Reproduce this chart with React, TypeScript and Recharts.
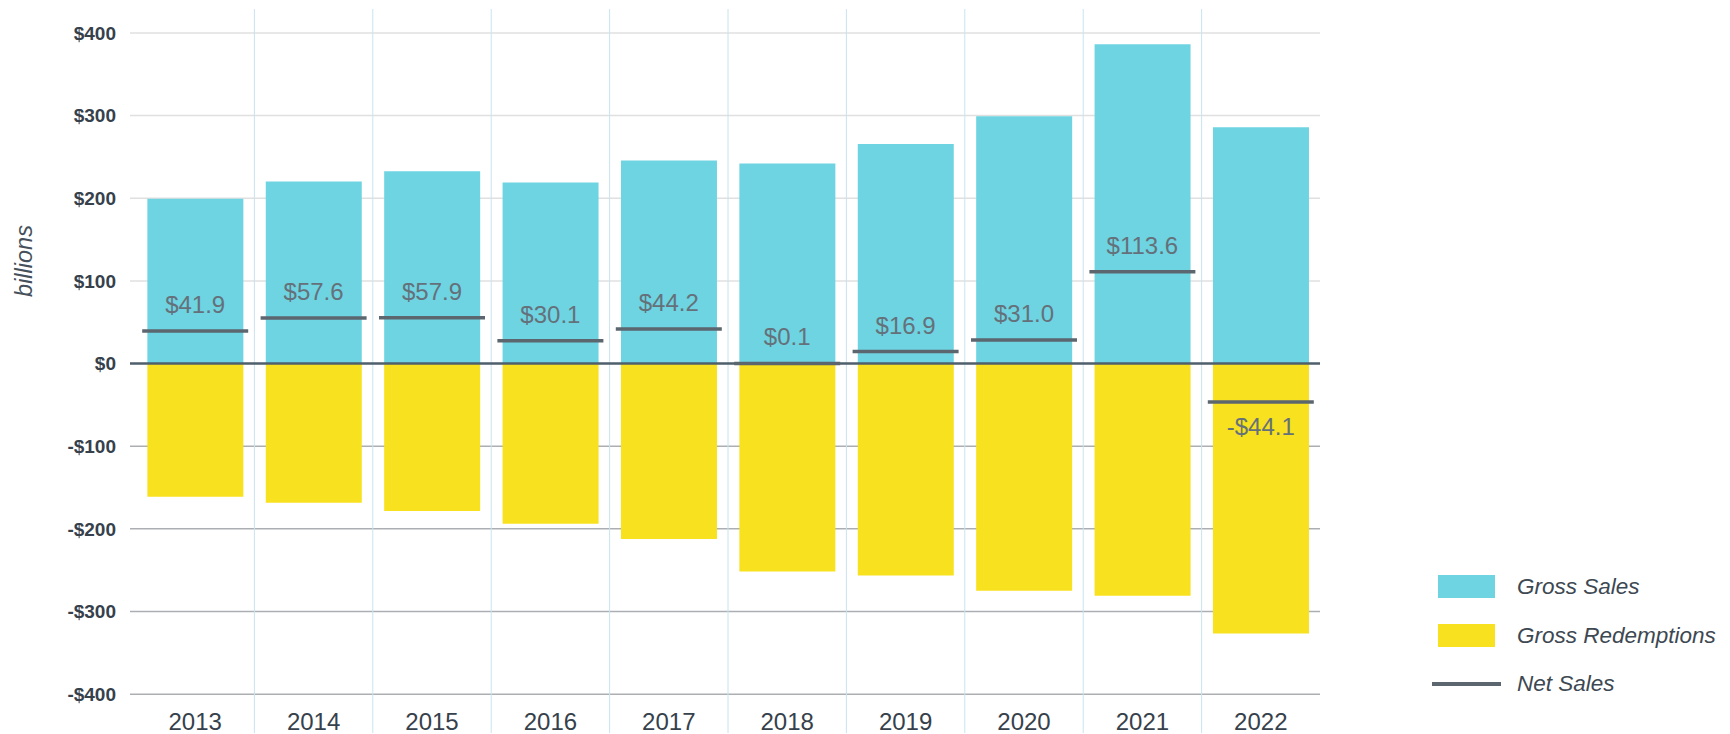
import React from "react";
import {
  ComposedChart,
  Bar,
  Scatter,
  XAxis,
  YAxis,
  CartesianGrid,
  ReferenceLine,
} from "recharts";

const years = ["2013", "2014", "2015", "2016", "2017", "2018", "2019", "2020", "2021", "2022"];
const grossSales = [199.5, 220.2, 232.7, 219, 245.7, 242, 265.6, 299.3, 386.5, 285.9];
const grossRedemptions = [-161.3, -168.5, -178.5, -193.8, -212.3, -251.7, -256.5, -275, -281, -326.5];
const netSales = [41.9, 57.6, 57.9, 30.1, 44.2, 0.1, 16.9, 31.0, 113.6, -44.1];
const yTicks = [-400, -300, -200, -100, 0, 100, 200, 300, 400];

const data = years.map((year, i) => ({
  year,
  gross: grossSales[i],
  redemptions: grossRedemptions[i],
  net: netSales[i],
}));

const W = 1730;
const H = 734;
const TOP = 9;
const X_AXIS_H = 1;
const Y_MIN = -447;
const Y_MAX = 429;
const PLOT_H = H - TOP - X_AXIS_H;
const ZERO_Y = TOP + (PLOT_H * Y_MAX) / (Y_MAX - Y_MIN);

const FONT = "'Liberation Sans', Arial, sans-serif";
const CYAN = "#6ed4e2";
const YELLOW = "#f8e11e";
const NET = "#5b666e";
const V_GRID = "#c8e4ef";

const money = (v: number, digits = 0) =>
  v < 0 ? `-$${Math.abs(v).toFixed(digits)}` : `$${v.toFixed(digits)}`;

// net sales: a short horizontal bar marker with its value
const NetMarker = (props: any) => {
  const { cx, cy, payload } = props;
  if (cx == null || cy == null) return null;
  const y = payload.net < 1 && payload.net >= 0 ? cy : cy + 2;
  const neg = payload.net < 0;
  return (
    <g>
      <line x1={cx - 53} x2={cx + 53} y1={y} y2={y} stroke={NET} strokeWidth={3.5} />
      <text
        x={cx}
        y={neg ? y + 33 : y - 18}
        textAnchor="middle"
        fill="#65717a"
        fontSize={24}
        fontFamily={FONT}
      >
        {money(payload.net, 1)}
      </text>
    </g>
  );
};

const XTick = (props: any) => {
  const { x, y, payload } = props;
  return (
    <text x={x} y={y - 3} textAnchor="middle" fill="#36414b" fontSize={24} fontFamily={FONT}>
      {payload.value}
    </text>
  );
};

const legendItems = [
  { name: "Gross Sales", kind: "rect", color: CYAN },
  { name: "Gross Redemptions", kind: "rect", color: YELLOW },
  { name: "Net Sales", kind: "line", color: NET },
];

const ChartLegend = () => (
  <div style={{ position: "absolute", left: 1432, top: 563, width: 298, fontFamily: FONT }}>
    {legendItems.map((item) => (
      <div key={item.name} style={{ display: "flex", alignItems: "center", height: 48.5 }}>
        <div style={{ width: 85, position: "relative", height: 24 }}>
          {item.kind === "rect" ? (
            <div
              style={{ position: "absolute", left: 6, top: 0, width: 57, height: 23, background: item.color }}
            />
          ) : (
            <div
              style={{ position: "absolute", left: 0, top: 10, width: 69, height: 4, background: item.color }}
            />
          )}
        </div>
        <span style={{ fontSize: 22.5, fontStyle: "italic", color: "#3d4852", whiteSpace: "nowrap" }}>
          {item.name}
        </span>
      </div>
    ))}
  </div>
);

export default function App() {
  return (
    <div style={{ position: "absolute", left: 0, top: 0, width: W, height: H, background: "#fff" }}>
      <ComposedChart
        width={W}
        height={H}
        data={data}
        stackOffset="sign"
        barCategoryGap="9.6%"
        margin={{ top: TOP, right: 410, left: 0, bottom: 0 }}
      >
        <CartesianGrid
          stroke={V_GRID}
          horizontal={(p: any) =>
            p.y1 > TOP + PLOT_H - 8 || p.y1 < TOP + 5 ? (
              <g />
            ) : (
              <line
                x1={p.x1 - 6}
                x2={p.x2}
                y1={p.y1}
                y2={p.y2}
                stroke={p.y1 > ZERO_Y + 2 ? "#abafb3" : "#e0e0e0"}
                strokeWidth={1.5}
              />
            )
          }
          vertical={(p: any) => (
            <line x1={p.x1} x2={p.x2} y1={p.y1} y2={p.y2} stroke={V_GRID} strokeWidth={1} />
          )}
          verticalCoordinatesGenerator={({ offset }: any) =>
            years.slice(1).map((_, k) => offset.left + ((k + 1) * offset.width) / years.length)
          }
        />
        <XAxis
          dataKey="year"
          height={X_AXIS_H}
          axisLine={false}
          tickLine={false}
          tickSize={0}
          tickMargin={0}
          tick={<XTick />}
          interval={0}
        />
        <YAxis
          width={136}
          domain={[Y_MIN, Y_MAX]}
          ticks={yTicks}
          allowDataOverflow
          axisLine={false}
          tickLine={false}
          tickSize={0}
          tickMargin={20}
          tickFormatter={(v: number) => money(v)}
          tick={{ fill: "#36414b", fontSize: 19, fontWeight: 700, fontFamily: FONT }}
          label={{
            content: () => (
              <text
                x={0}
                y={0}
                transform={`translate(32, 261) rotate(-90)`}
                textAnchor="middle"
                fill="#45505a"
                fontSize={23.5}
                fontStyle="italic"
                fontFamily={FONT}
              >
                billions
              </text>
            ),
          }}
        />
        <Bar dataKey="gross" name="Gross Sales" stackId="s" fill={CYAN} isAnimationActive={false} />
        <Bar
          dataKey="redemptions"
          name="Gross Redemptions"
          stackId="s"
          fill={YELLOW}
          isAnimationActive={false}
        />
        <ReferenceLine
          y={0}
          stroke="#4f5f6c"
          strokeWidth={2.5}
          shape={(p: any) => (
            <line x1={p.x1 - 6} x2={p.x2} y1={p.y1} y2={p.y2} stroke="#4f5f6c" strokeWidth={2.5} />
          )}
        />
        <Scatter dataKey="net" name="Net Sales" shape={<NetMarker />} isAnimationActive={false} />
      </ComposedChart>
      <ChartLegend />
    </div>
  );
}
